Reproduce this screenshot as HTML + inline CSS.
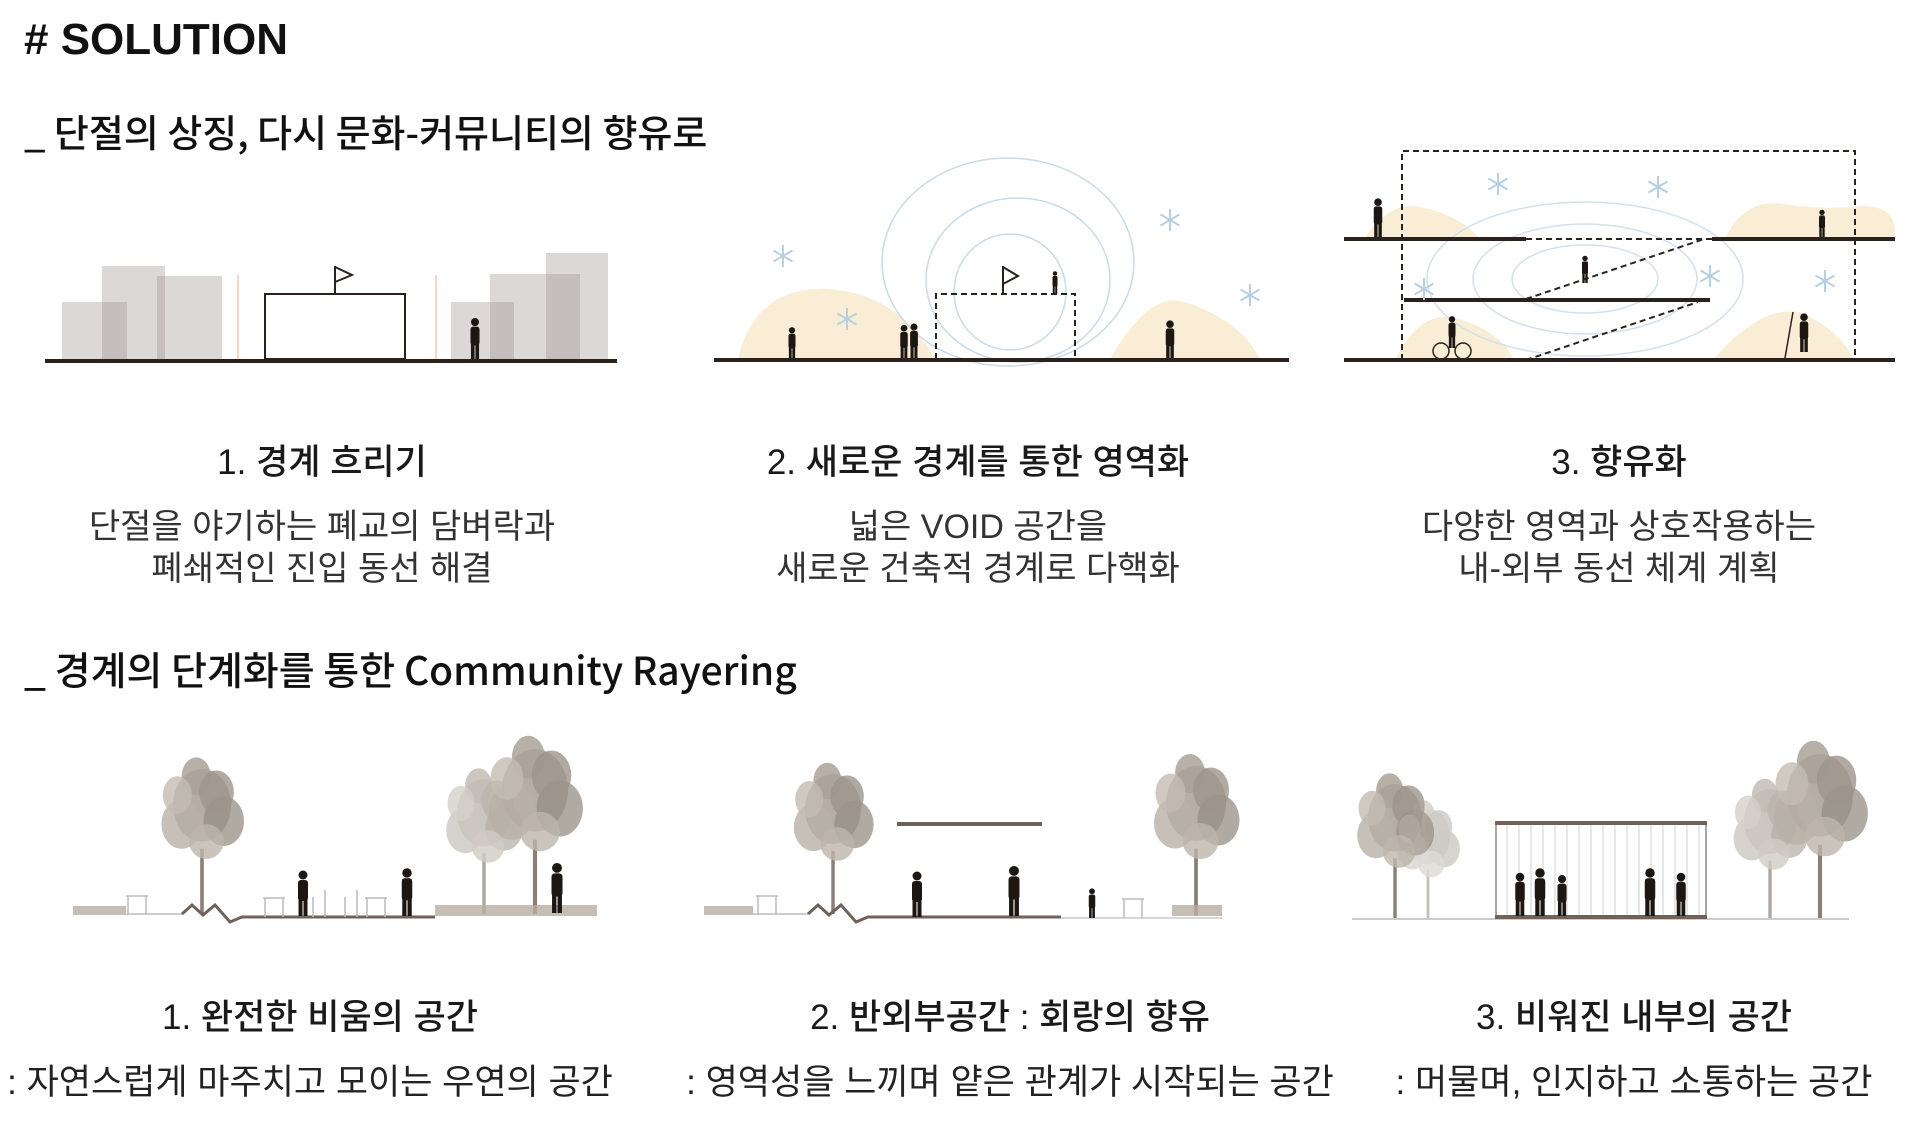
<!DOCTYPE html>
<html><head><meta charset="utf-8"><style>
html,body{margin:0;padding:0;background:#fff;}
svg{display:block;}
text{font-family:"Liberation Sans","Noto Sans CJK KR",sans-serif;}
.k{font-family:"Noto Sans CJK KR","Liberation Sans",sans-serif;}
</style></head><body>
<svg width="1920" height="1127" viewBox="0 0 1920 1127" xmlns="http://www.w3.org/2000/svg">
<defs>
<g id="pp" fill="#1d1714">
 <circle cx="0" cy="-41" r="4.5"/>
 <rect x="-5" y="-36" width="10" height="21" rx="3"/>
 <rect x="-4.5" y="-17" width="4" height="17"/>
 <rect x="0.5" y="-17" width="4" height="17"/>
</g>
<g id="sf" stroke="#b7cfe2" stroke-width="2" fill="none">
 <line x1="0" y1="-11" x2="0" y2="11"/><line x1="-9.5" y1="-5.5" x2="9.5" y2="5.5"/><line x1="-9.5" y1="5.5" x2="9.5" y2="-5.5"/>
</g>
<g id="tree">
 <line x1="0" y1="-45" x2="0" y2="0" stroke="#8a7f76" stroke-width="2.5"/>
 <ellipse cx="0" cy="-75" rx="20" ry="25" fill="#a39a90" opacity=".8"/>
 <ellipse cx="-14" cy="-62" rx="14" ry="17" fill="#b8b0a6" opacity=".8"/>
 <ellipse cx="15" cy="-64" rx="14" ry="17" fill="#968d83" opacity=".75"/>
 <ellipse cx="-4" cy="-95" rx="10" ry="13" fill="#aaa298" opacity=".85"/>
 <ellipse cx="10" cy="-84" rx="12" ry="15" fill="#9e958b" opacity=".8"/>
 <ellipse cx="-17" cy="-82" rx="10" ry="13" fill="#c3bbb1" opacity=".8"/>
 <ellipse cx="3" cy="-50" rx="12" ry="12" fill="#bdb5ab" opacity=".8"/>
</g>
</defs>

<text x="24" y="54" font-size="44" font-weight="bold" fill="#111">#  SOLUTION</text>
<text class="k" x="24" y="147" font-size="38" font-weight="500" fill="#111">_ 단절의 상징, 다시 문화-커뮤니티의 향유로</text>

<!-- Diagram 1 top -->
<g fill="rgba(150,138,136,0.33)">
 <rect x="62" y="302" width="65" height="57"/>
 <rect x="102" y="266" width="63" height="93"/>
 <rect x="157" y="276" width="65" height="83"/>
 <rect x="451" y="302" width="63" height="57"/>
 <rect x="490" y="274" width="90" height="85"/>
 <rect x="546" y="253" width="62" height="106"/>
</g>
<line x1="238" y1="275" x2="238" y2="359" stroke="#f2c8b8" stroke-width="1.5"/>
<line x1="436" y1="275" x2="436" y2="359" stroke="#f2c8b8" stroke-width="1.5"/>
<rect x="265" y="294" width="140" height="65" fill="#fff" stroke="#2a211d" stroke-width="2"/>
<line x1="335" y1="266" x2="335" y2="294" stroke="#2a211d" stroke-width="2"/>
<path d="M335 267 L352 275 L335 282" fill="none" stroke="#2a211d" stroke-width="2"/>
<use href="#pp" transform="translate(475,359) scale(0.9)"/>
<rect x="45" y="359" width="572" height="4" fill="#2a211d"/>

<!-- Diagram 2 top -->
<path d="M738 359 Q755 285 830 289 Q900 295 935 359 Z" fill="#f8ecd0" opacity=".9"/>
<path d="M1110 359 Q1150 290 1185 302 Q1240 320 1260 359 Z" fill="#f8ecd0" opacity=".9"/>
<g fill="none" stroke="#c9dbe8" stroke-width="1.5">
 <ellipse cx="1008" cy="262" rx="126" ry="104"/>
 <ellipse cx="1018" cy="280" rx="92" ry="82"/>
 <ellipse cx="1010" cy="292" rx="56" ry="58"/>
</g>
<path d="M936 359 L936 294 L1075 294 L1075 359" fill="none" stroke="#2a211d" stroke-width="2" stroke-dasharray="6,4"/>
<line x1="1003" y1="266" x2="1003" y2="294" stroke="#2a211d" stroke-width="2"/>
<path d="M1003 267 L1018 276 L1003 284" fill="none" stroke="#2a211d" stroke-width="2"/>
<use href="#pp" transform="translate(1055,294) scale(0.5)"/>
<use href="#pp" transform="translate(792,359) scale(0.7)"/>
<use href="#pp" transform="translate(904,359) scale(0.75)"/>
<use href="#pp" transform="translate(914,359) scale(0.78)"/>
<use href="#pp" transform="translate(1170,359) scale(0.85)"/>
<use href="#sf" transform="translate(783,256)"/>
<use href="#sf" transform="translate(847,319)"/>
<use href="#sf" transform="translate(1170,220)"/>
<use href="#sf" transform="translate(1250,295)"/>
<rect x="714" y="358" width="575" height="4" fill="#2a211d"/>

<!-- Diagram 3 top -->
<g fill="#f8ecd0" opacity=".9">
 <path d="M1364 239 Q1390 200 1420 207 Q1460 215 1480 239 Z"/>
 <path d="M1725 239 Q1745 195 1790 205 Q1830 210 1860 206 Q1900 205 1894 239 Z"/>
 <path d="M1395 360 Q1420 310 1455 318 Q1500 330 1514 360 Z"/>
 <path d="M1713 360 Q1760 305 1800 312 Q1840 330 1854 360 Z"/>
</g>
<g fill="none" stroke="#d3e1ec" stroke-width="1.5">
 <ellipse cx="1585" cy="279" rx="158" ry="77"/>
 <ellipse cx="1585" cy="279" rx="112" ry="55"/>
 <ellipse cx="1585" cy="279" rx="73" ry="34"/>
</g>
<g stroke="#2a211d" stroke-width="2" stroke-dasharray="6,4" fill="none">
 <path d="M1402 360 L1402 151 L1855 151 L1855 360"/>
 <line x1="1526" y1="239" x2="1712" y2="239"/>
 <line x1="1526" y1="299" x2="1704" y2="239"/>
 <line x1="1526" y1="360" x2="1698" y2="302"/>
</g>
<g fill="#2a211d">
 <rect x="1344" y="237" width="182" height="4"/>
 <rect x="1712" y="237" width="183" height="4"/>
 <rect x="1404" y="298" width="306" height="4"/>
 <rect x="1344" y="358" width="551" height="4"/>
</g>
<use href="#pp" transform="translate(1378,237) scale(0.85)"/>
<use href="#pp" transform="translate(1585,283) scale(0.6)"/>
<use href="#pp" transform="translate(1822,237) scale(0.6)"/>
<use href="#pp" transform="translate(1452,348) scale(0.7)"/>
<use href="#pp" transform="translate(1804,352) scale(0.85)"/>
<g fill="none" stroke="#2a211d" stroke-width="1.5"><circle cx="1441" cy="351" r="8"/><circle cx="1463" cy="351" r="8"/></g>
<line x1="1785" y1="358" x2="1793" y2="312" stroke="#2a211d" stroke-width="1.5"/>
<use href="#sf" transform="translate(1498,184)"/>
<use href="#sf" transform="translate(1658,187)"/>
<use href="#sf" transform="translate(1424,289)"/>
<use href="#sf" transform="translate(1710,276)"/>
<use href="#sf" transform="translate(1825,281)"/>

<!-- Top captions -->
<g class="k" text-anchor="middle" fill="#1a1a1a">
 <text x="322" y="474" font-size="35" font-weight="500">1.  경계 흐리기</text>
 <text x="978" y="474" font-size="35" font-weight="500">2.  새로운 경계를 통한 영역화</text>
 <text x="1619" y="474" font-size="35" font-weight="500">3.  향유화</text>
 <g font-size="34" fill="#333">
  <text x="322" y="538">단절을 야기하는 폐교의 담벼락과</text>
  <text x="322" y="580">폐쇄적인 진입 동선 해결</text>
  <text x="978" y="538">넓은 VOID 공간을</text>
  <text x="978" y="580">새로운 건축적 경계로 다핵화</text>
  <text x="1619" y="538">다양한 영역과 상호작용하는</text>
  <text x="1619" y="580">내-외부 동선 체계 계획</text>
 </g>
</g>

<text class="k" x="24" y="685" font-size="39" font-weight="500" fill="#111">_ 경계의 단계화를 통한 Community Rayering</text>

<!-- Bottom diagram 1 -->
<use href="#tree" transform="translate(202,914) scale(1.45)"/>
<use href="#tree" transform="translate(484,914) scale(1.35)" opacity=".7"/>
<use href="#tree" transform="translate(535,914) scale(1.65)"/>
<rect x="73" y="906" width="53" height="9" fill="#b8aea2" opacity=".8"/>
<rect x="435" y="905" width="162" height="11" fill="#b8aea2" opacity=".8"/>
<line x1="126" y1="914" x2="182" y2="914" stroke="#bbb" stroke-width="1.5"/>
<path d="M182 914 L192 905 L203 915 L215 905 L230 922 L242 917 L435 917" fill="none" stroke="#6e625a" stroke-width="3"/>
<g fill="none" stroke="#bbb" stroke-width="1.5">
 <path d="M128 914 V896 M146 914 V896 M126 896 H148"/>
 <path d="M265 917 V898 M283 917 V898 M263 898 H285"/>
 <path d="M367 917 V898 M385 917 V898 M365 898 H387"/>
 <path d="M313 917 V897 M325 917 V890"/>
 <path d="M345 917 V897 M357 917 V890"/>
</g>
<use href="#pp" transform="translate(303,916) scale(1.0)"/>
<use href="#pp" transform="translate(407,916) scale(1.05)"/>
<use href="#pp" transform="translate(557,913) scale(1.1)"/>

<!-- Bottom diagram 2 -->
<use href="#tree" transform="translate(833,914) scale(1.4)"/>
<use href="#tree" transform="translate(1196,916) scale(1.5)"/>
<rect x="704" y="906" width="49" height="9" fill="#b8aea2" opacity=".8"/>
<rect x="1172" y="905" width="50" height="11" fill="#b8aea2" opacity=".8"/>
<line x1="753" y1="914" x2="808" y2="914" stroke="#bbb" stroke-width="1.5"/>
<path d="M808 914 L818 905 L829 915 L841 905 L856 922 L868 917 L1061 917" fill="none" stroke="#6e625a" stroke-width="3"/>
<line x1="1061" y1="918" x2="1223" y2="918" stroke="#ccc" stroke-width="1.5"/>
<rect x="897" y="822" width="145" height="4" fill="#6e625a"/>
<g fill="none" stroke="#bbb" stroke-width="1.5">
 <path d="M758 914 V896 M776 914 V896 M756 896 H778"/>
 <path d="M1124 918 V899 M1142 918 V899 M1122 899 H1144"/>
</g>
<use href="#pp" transform="translate(917,917) scale(1.0)"/>
<use href="#pp" transform="translate(1014,916) scale(1.1)"/>
<use href="#pp" transform="translate(1092,918) scale(0.65)"/>

<!-- Bottom diagram 3 -->
<use href="#tree" transform="translate(1395,919) scale(1.35)"/>
<use href="#tree" transform="translate(1428,919) scale(1.1)" opacity=".5"/>
<use href="#tree" transform="translate(1770,919) scale(1.3)" opacity=".7"/>
<use href="#tree" transform="translate(1820,919) scale(1.65)"/>
<line x1="1352" y1="919" x2="1849" y2="919" stroke="#ccc" stroke-width="2"/>
<g stroke="#d0cfcf" stroke-width="1">
 <line x1="1507" y1="825" x2="1507" y2="917"/><line x1="1519" y1="825" x2="1519" y2="917"/><line x1="1531" y1="825" x2="1531" y2="917"/><line x1="1543" y1="825" x2="1543" y2="917"/><line x1="1555" y1="825" x2="1555" y2="917"/><line x1="1567" y1="825" x2="1567" y2="917"/><line x1="1579" y1="825" x2="1579" y2="917"/><line x1="1591" y1="825" x2="1591" y2="917"/><line x1="1603" y1="825" x2="1603" y2="917"/><line x1="1615" y1="825" x2="1615" y2="917"/><line x1="1627" y1="825" x2="1627" y2="917"/><line x1="1639" y1="825" x2="1639" y2="917"/><line x1="1651" y1="825" x2="1651" y2="917"/><line x1="1663" y1="825" x2="1663" y2="917"/><line x1="1675" y1="825" x2="1675" y2="917"/><line x1="1687" y1="825" x2="1687" y2="917"/><line x1="1699" y1="825" x2="1699" y2="917"/>
</g>
<line x1="1496" y1="825" x2="1496" y2="917" stroke="#888" stroke-width="1.5"/>
<line x1="1706" y1="825" x2="1706" y2="917" stroke="#888" stroke-width="1.5"/>
<rect x="1495" y="821" width="212" height="4" fill="#6e625a"/>
<rect x="1495" y="915" width="212" height="4" fill="#6e625a"/>
<use href="#pp" transform="translate(1520,916) scale(0.95)"/>
<use href="#pp" transform="translate(1540,916) scale(1.05)"/>
<use href="#pp" transform="translate(1562,916) scale(0.9)"/>
<use href="#pp" transform="translate(1650,916) scale(1.05)"/>
<use href="#pp" transform="translate(1681,916) scale(0.95)"/>

<!-- Bottom captions -->
<g class="k" text-anchor="middle" fill="#1a1a1a">
 <text x="320" y="1029" font-size="35" font-weight="500">1.  완전한 비움의 공간</text>
 <text x="1010" y="1029" font-size="35" font-weight="500">2.  반외부공간 : 회랑의 향유</text>
 <text x="1634" y="1029" font-size="35" font-weight="500">3.  비워진 내부의 공간</text>
 <g font-size="35" fill="#222">
  <text x="310" y="1094">: 자연스럽게 마주치고 모이는 우연의 공간</text>
  <text x="1010" y="1094">: 영역성을 느끼며 얕은 관계가 시작되는 공간</text>
  <text x="1634" y="1094">: 머물며, 인지하고 소통하는 공간</text>
 </g>
</g>
</svg>
</body></html>
